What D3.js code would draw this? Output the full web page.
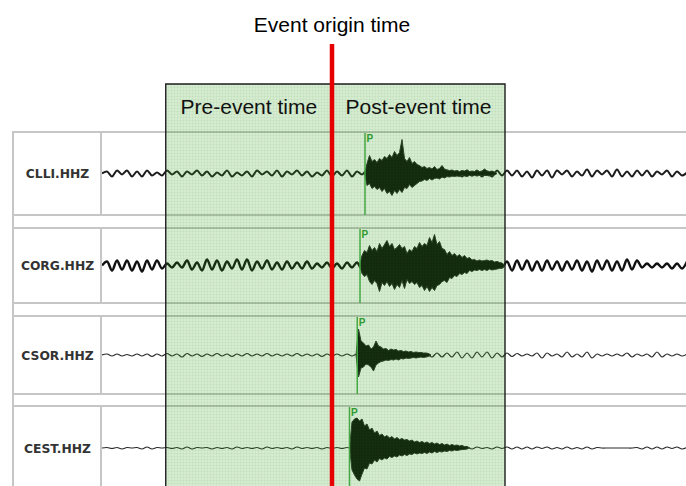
<!DOCTYPE html>
<html>
<head>
<meta charset="utf-8">
<script src="https://cdn.jsdelivr.net/npm/d3@7"></script>
<style>
  html, body { margin: 0; padding: 0; background: #fff; }
  svg { display: block; }
</style>
</head>
<body>
<svg id="chart" width="686" height="486"></svg>
<script>
// ---------------- DATA ----------------
const stations = ["CLLI.HHZ", "CORG.HHZ", "CSOR.HHZ", "CEST.HHZ"];
const titleText = "Event origin time";
const windowLabels = ["Pre-event time", "Post-event time"];
const originTime = 0;            // s
const windowStart = -66.5;       // s, start of pre-event window
const windowEnd = 69.2;          // s, end of post-event window
const timeDomain = [-92, 142];   // s, extent of traces
const pArrival = [13.2, 11.2, 10.1, 7.0]; // s, P picks per station

// background noise (alternating extrema), sampled every noiseStep s from noiseStart
const noiseStart = -92, noiseStep = 2;
const noiseCLLI = [
  0,2,-3,3,-1,3,-3,2,-3,3,-2,1,
  -2,3,-1,2,-3,2,-1,3,-2,2,-3,1,
  -2,3,-3,1,-2,2,-3,3,-1,2,-2,3,
  -3,2,-1,3,-2,2,-3,1,-2,3,-3,2,
  -2,3,-3,2,-1,3,-2,2,-3,3,-2,2,
  -3,2,-2,3,-2,2,-3,2,-3,3,-2,2,
  -3,3,-2,3,-3,2,-3,3,-2,3,-2,3,
  -3,2,-4,3,-2,3,-4,3,-1,3,-3,2,
  -2,4,-3,3,-1,3,-3,4,-3,2,-3,3,
  -2,3,-3,2,-1,3,-3,2,-2,1];
const noiseCORG = [
  0,4,-5,5,-4,5,-5,4,-6,5,-4,5,
  -3,2,-2,3,-2,5,-4,3,-5,6,-4,5,
  -5,4,-3,6,-4,6,-5,4,-3,5,-4,3,
  -4,4,-3,3,-3,4,-3,2,-2,3,-3,2,
  -3,3,-2,3,-4,3,-3,3,-3,3,-3,3,
  -3,3,-3,3,-3,3,-3,3,-3,3,-3,3,
  -3,3,-3,3,-3,3,-3,3,-2,4,-5,5,
  -4,5,-5,4,-5,5,-4,4,-5,4,-4,5,
  -5,4,-6,5,-4,5,-5,4,-5,6,-4,5,
  -2,2,-2,2,-2,2,-3,2,-3,4];
const noiseCSOR = [
  0,1,-1,1,-1,0.5,-1,1,-1,1,-1.5,1,
  -1,1.5,-1,1,-2,1.5,-1,1,-1.5,1,-1,1.5,
  -1,1,-1.5,1,-1,1.5,-1,1,-1,1.5,-1,1,
  -1,1,-1,1.5,-1,1,-1,1,-1.5,1,-1,1,
  -1,1,-1,1,-1,1,-1,1,-1,1,-1,1,
  -1,1,-1,1,-1,1.5,-2,2,-2,2,-2,3,
  -3,2,-3,3,-2,3,-3,2,-2,2,-1.5,1.5,
  -1,1,-1,2,-3,2,-1,1,-2,3,-2,1,
  -2,3,-3,1,-1,1,-1,1,-1,2,-2,1,
  -1,1,-2,3,-2,1,-1,1,-1,1];
const noiseCEST = [
  0,0.5,-0.5,0.5,-1,0.5,0,0.5,-1,1,-1,0.5,
  0,0.5,-0.5,0.5,-1,1,-1,0.5,0,0.5,-1,0.5,
  -0.5,0.5,-1,1,-0.5,0.5,-0.5,0.5,-1,1,-0.5,0.5,
  -0.5,0.5,-1,1,-0.5,0.5,-0.5,0.5,-1,0.5,-0.5,0.5,
  -0.5,0.5,-0.5,0.5,-0.5,0.5,-0.5,0.5,-0.5,0.5,-0.5,0.5,
  -0.5,0.5,-0.5,0.5,-0.5,0.5,-0.5,0.5,-0.5,0.5,-1,1,
  -1,1,-1,1,-0.5,0.5,-1,1,-0.5,1,-1,1,
  -1,1,-1,1,-0.5,1,-1,0.5,-1,1,-1,0.5,
  -1,1,-1,0.5,0,0,0,0,0,0,0,0.5,
  -1,1,-1,1,-1,1,-0.5,1,-1,0.5];

// event signal envelopes (upper / lower amplitude), sampled every burstStep s from burstStart
const burstStep = 1;
const burstStart = [13, 11, 9.6, 7];
const burstUpCLLI = [0,10,18,12,14,11,15,13,17,15,19,16,22,18,21,34,15,12,16,10,12,9,8,6,7,5,6,4.5,7,4,5,8,4.5,3.5,
  3,3.5,2.5,3,2,3,2.5,3.5,2,2.5,2,3,2,2.5,4.5,2.5,2,2.5,1.5,0];
const burstDnCLLI = [0,12,10,15,13,16,14,18,15,20,18,22,17,20,16,19,14,15,11,14,12,10,8,7.5,6,7,5,6.5,5,4.5,5.5,3.5,4.5,3,
  3.5,2.5,3,2.5,3,2,2.5,3,2,2.5,2,2.5,2,2.5,2,2,2.5,2,1.5,0];
const burstUpCORG = [0,10,15,13,20,15,18,14,22,17,21,25,19,22,16,18,21,17,19,12,16,14,19,17,23,19,22,20,28,23,
  31,21,24,17,16,11,14,10,12,9,11,8,10,7,8,5.5,6,4.5,5.5,4.5,5,5.5,4.5,5,3.5,4,3,2.5,0];
const burstDnCORG = [0,8,11,9,16,19,15,18,26,17,20,16,21,18,24,19,22,15,23,14,18,16,19,17,22,20,25,21,26,22,
  25,20,19,16,15,17,12,13,10,11,8,9,7,8,5,6,4.5,5,4,5,4,5,3.5,4.5,4,3.5,3,2.5,0];
const burstUpCSOR = [0,26,14,12,9,10,6,8,14,9,8,6,6.5,4.5,6,5,5.5,4,4.5,3.5,4,3,3.5,2.5,3,2.5,2.5,2,2,1.5,0];
const burstDnCSOR = [0,22,13,12,9,10,12,16,10,8,6.5,6,5,5.5,4.5,5,4,5,3.5,4,3,3.5,3,2.5,3,2.5,2,2.5,2,1.5,0];
const burstUpCEST = [0,26,29,30,27,29,22,24,18,20,15,17,12.5,14,11,12.5,10,11.5,9,10.5,8.5,9.5,8,8.5,7,8,6,7,5.5,6.5,
  5,6,4.5,5.5,4,5,3.5,4.5,3,4,2.5,3.5,2.5,3,2,2.5,1.5,1.5,0];
const burstDnCEST = [0,22,27,31,33,26,20,21,15,16,12,14,10.5,12,10,11,8.5,9.5,8,9,7,8,6.5,7.5,6,6.5,5,6,5,5.5,
  4.5,5.5,4,5,3.5,4.5,3.5,4,3,3.5,2.5,3,2,2.5,2,1.5,1.5,1,0];

const noiseSeries = [noiseCLLI, noiseCORG, noiseCSOR, noiseCEST];
const burstUpSeries = [burstUpCLLI, burstUpCORG, burstUpCSOR, burstUpCEST];
const burstDnSeries = [burstDnCLLI, burstDnCORG, burstDnCSOR, burstDnCEST];

// ---------------- LAYOUT / STYLE ----------------
const W = 686, H = 486;
const rowTop = [132, 228, 316, 406];
const rowBottom = [215, 303, 394, 490];
const frameLeft = 13, labelRight = 101;
const traceLeft = 102, traceRight = 687;
const boxTop = 84;
const traceWidth = [2, 2.4, 1.2, 1.2];
const traceColor = ["#1b1b1b", "#111", "#2a2a2a", "#2a2a2a"];

const svg = d3.select("#chart");
const defs = svg.append("defs");

const x = d3.scaleLinear().domain(timeDomain).range([traceLeft, traceRight]);

// green grid pattern (semi-transparent overlay)
const pat = defs.append("pattern").attr("id", "gridPat")
  .attr("patternUnits", "userSpaceOnUse").attr("width", 3).attr("height", 3);
pat.append("rect").attr("width", 3).attr("height", 3)
  .attr("fill", "rgb(45,160,20)").attr("fill-opacity", 0.2);
pat.append("path").attr("d", "M0 0.5H3M0.5 0V3")
  .attr("stroke", "rgb(20,110,20)").attr("stroke-opacity", 0.05).attr("stroke-width", 1);

defs.append("clipPath").attr("id", "traceClip")
  .append("rect").attr("x", traceLeft).attr("y", 0).attr("width", W - traceLeft).attr("height", H);

// ---- table rows ----
const gridColor = "#c6c6c6";
const rows = svg.append("g");
stations.forEach((s, i) => {
  [rowTop[i], rowBottom[i]].forEach(yy => {
    rows.append("line").attr("x1", frameLeft).attr("x2", W).attr("y1", yy).attr("y2", yy)
      .attr("stroke", gridColor).attr("stroke-width", 2.2);
  });
  rows.append("line").attr("x1", labelRight).attr("x2", labelRight)
    .attr("y1", rowTop[i]).attr("y2", rowBottom[i])
    .attr("stroke", gridColor).attr("stroke-width", 2);
});
rows.append("line").attr("x1", frameLeft).attr("x2", frameLeft)
  .attr("y1", rowTop[0] - 1).attr("y2", H)
  .attr("stroke", gridColor).attr("stroke-width", 2);

// ---- station labels ----
stations.forEach((s, i) => {
  const c = (rowTop[i] + rowBottom[i]) / 2;
  svg.append("text").attr("x", (frameLeft + labelRight) / 2 + 0.5).attr("y", c + 4.5)
    .attr("text-anchor", "middle")
    .attr("font-family", "DejaVu Sans, Verdana, sans-serif")
    .attr("font-weight", "bold").attr("font-size", 12.3)
    .attr("fill", "#333").text(s);
});

// ---- traces ----
const traces = svg.append("g").attr("clip-path", "url(#traceClip)");
stations.forEach((s, i) => {
  const c = (rowTop[i] + rowBottom[i]) / 2;
  const y = d3.scaleLinear().domain([-40, 40]).range([c + 40, c - 40]);
  const pts = noiseSeries[i].map((v, k) => ({ t: noiseStart + k * noiseStep, v }));
  const line = d3.line().x(d => x(d.t)).y(d => y(d.v)).curve(d3.curveCatmullRom.alpha(0.5));
  traces.append("path").datum(pts).attr("d", line)
    .attr("fill", "none").attr("stroke", traceColor[i])
    .attr("stroke-width", traceWidth[i]).attr("stroke-linejoin", "round");

  const env = burstUpSeries[i].map((u, k) => ({
    t: burstStart[i] + k * burstStep, up: u, dn: burstDnSeries[i][k]
  }));
  const area = d3.area().x(d => x(d.t)).y0(d => y(-d.dn)).y1(d => y(d.up)).curve(d3.curveLinear);
  traces.append("path").datum(env).attr("d", area)
    .attr("fill", "#0c0c0c").attr("stroke", "#2a2a2a").attr("stroke-width", 1)
    .attr("stroke-linejoin", "round");
});

// ---- green windows overlay ----
svg.append("rect")
  .attr("x", x(windowStart)).attr("y", boxTop)
  .attr("width", x(windowEnd) - x(windowStart)).attr("height", H - boxTop)
  .attr("fill", "url(#gridPat)");
svg.append("path")
  .attr("d", `M${x(windowStart)},${H}V${boxTop}H${x(windowEnd)}V${H}`)
  .attr("fill", "none").attr("stroke", "#1e1e1e").attr("stroke-width", 1.4);

// ---- P picks ----
stations.forEach((s, i) => {
  const px = x(pArrival[i]);
  svg.append("line").attr("x1", px).attr("x2", px)
    .attr("y1", rowTop[i] + 1).attr("y2", Math.min(rowBottom[i], H))
    .attr("stroke", "#45a845").attr("stroke-width", 1.5);
  svg.append("text").attr("x", px + 1.5).attr("y", rowTop[i] + 9.5)
    .attr("font-family", "Liberation Sans, Arial, sans-serif")
    .attr("font-weight", "bold").attr("font-size", 10)
    .attr("fill", "#2f9a2f").text("P");
});

// ---- window labels ----
const centers = [(windowStart + originTime) / 2, (originTime + windowEnd) / 2];
windowLabels.forEach((t, k) => {
  svg.append("text").attr("x", x(centers[k])).attr("y", 114)
    .attr("text-anchor", "middle")
    .attr("font-family", "Liberation Sans, Arial, sans-serif")
    .attr("font-size", 21).attr("fill", "#111").text(t);
});

// ---- origin time line + title ----
svg.append("line").attr("x1", x(originTime)).attr("x2", x(originTime))
  .attr("y1", 44).attr("y2", H)
  .attr("stroke", "#e60000").attr("stroke-width", 4.5);
svg.append("text").attr("x", x(originTime)).attr("y", 32)
  .attr("text-anchor", "middle")
  .attr("font-family", "Liberation Sans, Arial, sans-serif")
  .attr("font-size", 21).attr("fill", "#000").text(titleText);
</script>
</body>
</html>
